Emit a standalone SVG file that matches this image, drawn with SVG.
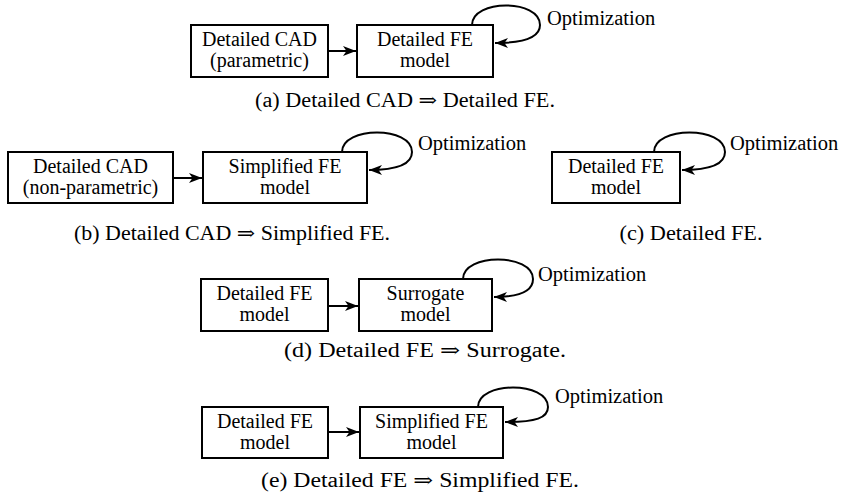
<svg xmlns="http://www.w3.org/2000/svg" width="843" height="501" viewBox="0 0 843 501">
  <style>
    .box { fill: #fff; stroke: #000; stroke-width: 2; }
    text { font-family: 'Liberation Serif', 'Times New Roman', Tinos, 'Noto Serif', 'DejaVu Serif', serif; fill: #000; }
    .lbl { font-size: 20px; text-anchor: middle; }
    .opt { font-size: 20.5px; }
    .cap { font-size: 20px; text-anchor: middle; }
    .edge { fill: none; stroke: #000; stroke-width: 2; marker-end: url(#tip); }
  </style>
  <defs>
    <!-- stealth-style arrowhead shared by all connectors -->
    <marker id="tip" viewBox="-14 -6 15 12" refX="0" refY="0" markerWidth="15" markerHeight="12" markerUnits="userSpaceOnUse" orient="auto">
      <path d="M0,0 L-13,-5 L-9.5,0 L-13,5 Z" fill="#000"/>
    </marker>
  </defs>

  <!-- (a) -->
  <g id="a-cad">
    <rect class="box" x="191" y="25" width="137" height="52"/>
    <text class="lbl" x="259.5" y="46">Detailed CAD</text>
    <text class="lbl" x="259.5" y="67">(parametric)</text>
  </g>
  <g id="a-fe">
    <rect class="box" x="357" y="25" width="136" height="52"/>
    <text class="lbl" x="425" y="46">Detailed FE</text>
    <text class="lbl" x="425" y="67">model</text>
  </g>
  <text class="opt" x="547" y="25">Optimization</text>
  <text class="cap" x="405" y="107" textLength="300" lengthAdjust="spacingAndGlyphs">(a) Detailed CAD ⇒ Detailed FE.</text>

  <!-- (b) -->
  <g id="b-cad">
    <rect class="box" x="8" y="152" width="165" height="51"/>
    <text class="lbl" x="90.5" y="173">Detailed CAD</text>
    <text class="lbl" x="90.5" y="194">(non-parametric)</text>
  </g>
  <g id="b-fe">
    <rect class="box" x="203" y="152" width="164" height="51"/>
    <text class="lbl" x="285" y="173">Simplified FE</text>
    <text class="lbl" x="285" y="194">model</text>
  </g>
  <text class="opt" x="418" y="150">Optimization</text>
  <text class="cap" x="232" y="240" textLength="316" lengthAdjust="spacingAndGlyphs">(b) Detailed CAD ⇒ Simplified FE.</text>

  <!-- (c) -->
  <g id="c-fe">
    <rect class="box" x="552" y="152" width="128" height="51"/>
    <text class="lbl" x="616" y="173">Detailed FE</text>
    <text class="lbl" x="616" y="194">model</text>
  </g>
  <text class="opt" x="730" y="150">Optimization</text>
  <text class="cap" x="691" y="240" textLength="143" lengthAdjust="spacingAndGlyphs">(c) Detailed FE.</text>

  <!-- (d) -->
  <g id="d-fe">
    <rect class="box" x="201" y="279" width="127" height="52"/>
    <text class="lbl" x="264.5" y="300">Detailed FE</text>
    <text class="lbl" x="264.5" y="321">model</text>
  </g>
  <g id="d-sur">
    <rect class="box" x="359" y="279" width="133" height="52"/>
    <text class="lbl" x="425.5" y="300">Surrogate</text>
    <text class="lbl" x="425.5" y="321">model</text>
  </g>
  <text class="opt" x="538" y="281">Optimization</text>
  <text class="cap" x="425" y="357" textLength="282" lengthAdjust="spacingAndGlyphs">(d) Detailed FE ⇒ Surrogate.</text>

  <!-- (e) -->
  <g id="e-fe">
    <rect class="box" x="202" y="407" width="126" height="51"/>
    <text class="lbl" x="265" y="428">Detailed FE</text>
    <text class="lbl" x="265" y="449">model</text>
  </g>
  <g id="e-simp">
    <rect class="box" x="360" y="407" width="143" height="51"/>
    <text class="lbl" x="431.5" y="428">Simplified FE</text>
    <text class="lbl" x="431.5" y="449">model</text>
  </g>
  <text class="opt" x="555" y="403">Optimization</text>
  <text class="cap" x="420" y="487" textLength="318" lengthAdjust="spacingAndGlyphs">(e) Detailed FE ⇒ Simplified FE.</text>

  <!-- connectors: straight arrows between boxes and optimization loops -->
  <g id="connectors">
    <path class="edge" d="M328,51 L356,51"/>
    <path class="edge" d="M472,25 C472,-1 540,-1 540,25 C540,36 528,43 495,43"/>

    <path class="edge" d="M173,178 L202,178"/>
    <path class="edge" d="M342,152 C342,126 412,126 412,152 C412,163 400,170 369,170"/>

    <path class="edge" d="M654,152 C654,126 725,126 725,152 C725,163 713,170 682,170"/>

    <path class="edge" d="M328,306 L358,306"/>
    <path class="edge" d="M463,279 C463,253 533,253 533,279 C533,290 521,297 494,297"/>

    <path class="edge" d="M328,432 L359,432"/>
    <path class="edge" d="M478,407 C478,381 548,381 548,407 C548,418 536,422 505,422"/>
  </g>
</svg>
